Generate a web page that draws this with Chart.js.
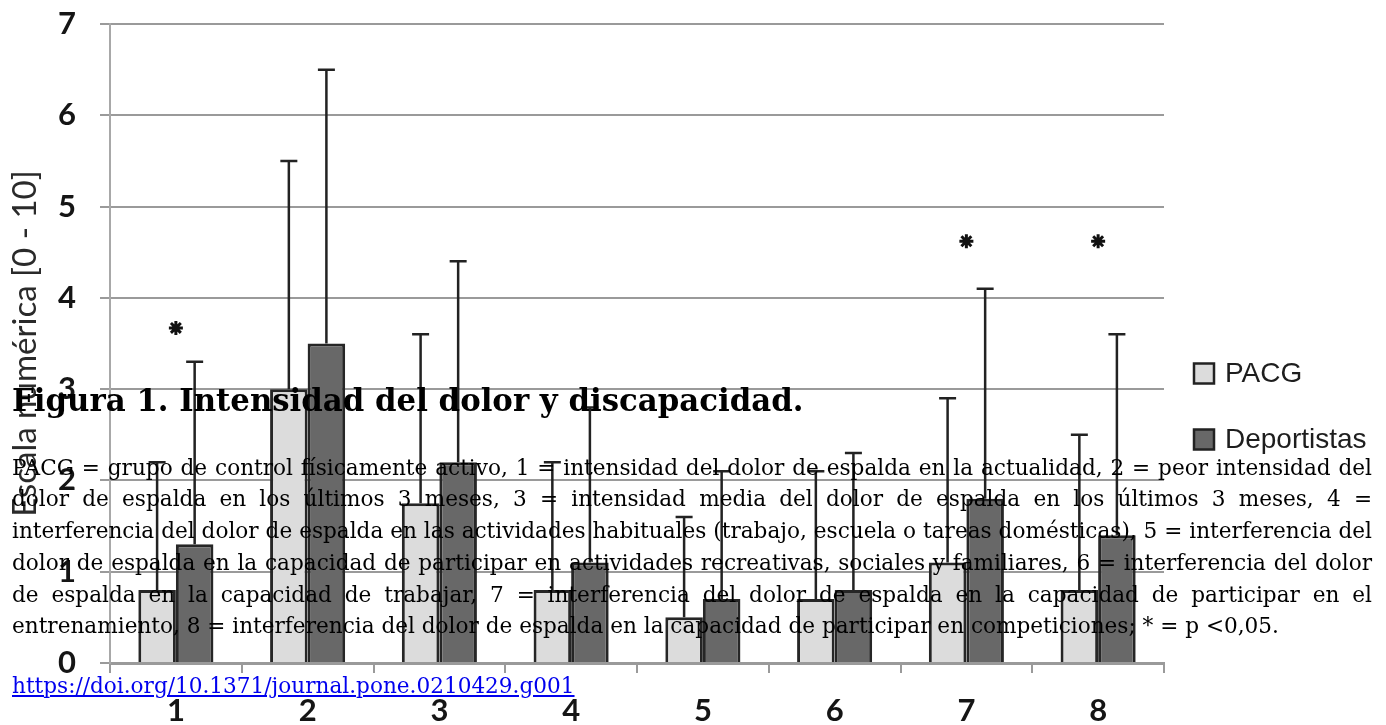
<!DOCTYPE html>
<html>
<head>
<meta charset="utf-8">
<script src="https://cdn.jsdelivr.net/npm/chart.js@4.4.1/dist/chart.umd.min.js"></script>
<style>
  body { margin: 0; background: #fff; }
  #wrap { position: relative; width: 1386px; height: 725px; overflow: hidden; }
  #chart { position: absolute; left: 0; top: 0; }
  .cap { position: absolute; left: 12px; font-family: "DejaVu Serif", serif; color: #000; margin: 0; }
  #title { top: 385px; font-size: 30.8px; line-height: 30.8px; font-weight: bold; }
  #desc { top: 451.6px; width: 1360px; font-size: 21.6px; line-height: 31.75px; text-align: justify; }
  #doi { top: 669.6px; font-size: 21.6px; line-height: 31.75px; color: #0000ee; text-decoration: underline; }
</style>
</head>
<body>
<div id="wrap">
  <canvas id="chart" width="1386" height="725"></canvas>
  <div class="cap" id="title">Figura 1. Intensidad del dolor y discapacidad.</div>
  <p class="cap" id="desc">PACG = grupo de control físicamente activo, 1 = intensidad del dolor de espalda en la actualidad, 2 = peor intensidad del dolor de espalda en los últimos 3 meses, 3 = intensidad media del dolor de espalda en los últimos 3 meses, 4 = interferencia del dolor de espalda en las actividades habituales (trabajo, escuela o tareas domésticas), 5 = interferencia del dolor de espalda en la capacidad de participar en actividades recreativas, sociales y familiares, 6 = interferencia del dolor de espalda en la capacidad de trabajar, 7 = interferencia del dolor de espalda en la capacidad de participar en el entrenamiento, 8 = interferencia del dolor de espalda en la capacidad de participar en competiciones; * = p &lt;0,05.</p>
  <a class="cap" id="doi" href="#">https://doi.org/10.1371/journal.pone.0210429.g001</a>
</div>
<script>
const categories = ['1', '2', '3', '4', '5', '6', '7', '8'];
const seriesNames = ['PACG', 'Deportistas'];
const pacg = [0.8, 3.0, 1.75, 0.8, 0.5, 0.7, 1.1, 0.8];
const deportistas = [1.3, 3.5, 2.2, 1.1, 0.7, 0.8, 1.8, 1.4];
// upper end of the error bars
const pacgTop = [2.2, 5.5, 3.6, 2.2, 1.6, 2.1, 2.9, 2.5];
const deportistasTop = [3.3, 6.5, 4.4, 2.8, 2.1, 2.3, 4.1, 3.6];
// significance marks (* = p < 0,05)
const asterisks = [3.67, null, null, null, null, null, 4.62, 4.62];
const yMin = 0, yMax = 7, yStep = 1;

const tickFont = { family: 'Lato', weight: 'bold', size: 31, lineHeight: 1 };

const errorBars = {
    id: 'errorBars',
    afterDatasetsDraw(chart) {
        const ctx = chart.ctx;
        const y = chart.scales.y;
        [pacgTop, deportistasTop].forEach((tops, di) => {
            chart.getDatasetMeta(di).data.forEach((bar, i) => {
                const yt = y.getPixelForValue(tops[i]);
                ctx.save();
                ctx.strokeStyle = '#222';
                ctx.lineWidth = 2.5;
                ctx.beginPath();
                ctx.moveTo(bar.x, bar.y);
                ctx.lineTo(bar.x, yt);
                ctx.moveTo(bar.x - 8.5, yt);
                ctx.lineTo(bar.x + 8.5, yt);
                ctx.stroke();
                ctx.restore();
            });
        });
    }
};

const sideLegend = {
    id: 'sideLegend',
    afterDraw(chart) {
        const ctx = chart.ctx;
        const x = chart.chartArea.right + 30;
        [0, 1].forEach(i => {
            const ds = chart.data.datasets[i];
            const cy = 373.5 + i * 66;
            ctx.save();
            ctx.fillStyle = ds.backgroundColor;
            ctx.strokeStyle = '#222';
            ctx.lineWidth = 2.5;
            ctx.fillRect(x, cy - 10, 20, 20);
            ctx.strokeRect(x, cy - 10, 20, 20);
            ctx.fillStyle = '#1e1e1e';
            ctx.font = '28px "Liberation Sans", Arial, sans-serif';
            ctx.textBaseline = 'middle';
            ctx.fillText(ds.label, x + 31, cy + 1);
            ctx.restore();
        });
    }
};

new Chart(document.getElementById('chart'), {
    type: 'bar',
    data: {
        labels: categories,
        datasets: [{
            label: seriesNames[0],
            data: pacg,
            backgroundColor: '#dcdcdc',
            borderColor: '#262626',
            borderWidth: 3,
            categoryPercentage: 0.57,
            barPercentage: 1,
        }, {
            label: seriesNames[1],
            data: deportistas,
            backgroundColor: '#686868',
            borderColor: '#262626',
            borderWidth: 3,
            categoryPercentage: 0.57,
            barPercentage: 1,
        }, {
            type: 'line',
            label: '*',
            data: asterisks,
            showLine: false,
            pointStyle: 'star',
            pointRadius: 7,
            pointBorderWidth: 3,
            borderColor: '#111',
            backgroundColor: '#111',
        }],
    },
    plugins: [errorBars, sideLegend],
    options: {
        responsive: false,
        animation: false,
        layout: { padding: { top: 24, right: 222, left: 0, bottom: 0 } },
        plugins: {
            legend: { display: false },
            tooltip: { enabled: false },
        },
        scales: {
            x: {
                afterFit(scale) { scale.height = 62; },
                grid: { offset: true, drawOnChartArea: false, tickLength: 10, color: '#9a9a9a', lineWidth: 2 },
                border: { color: '#9a9a9a', width: 3 },
                ticks: { font: tickFont, color: '#151515', padding: 22 },
            },
            y: {
                min: yMin,
                max: yMax,
                afterFit(scale) {
                    scale.width = 110;
                    scale.paddingTop = 0;
                    scale.paddingBottom = 0;
                },
                grid: { color: '#9a9a9a', lineWidth: 2, tickLength: 10 },
                border: { color: '#a8a8a8', width: 2 },
                ticks: { stepSize: yStep, font: tickFont, color: '#151515', padding: 24 },
                title: {
                    display: true,
                    text: 'Escala numérica [0 - 10]',
                    font: { family: 'Lato', size: 33, lineHeight: 1.2 },
                    color: '#2a2a2a',
                    padding: { top: 6, bottom: 0 },
                },
            },
        },
    },
});
</script>
</body>
</html>
